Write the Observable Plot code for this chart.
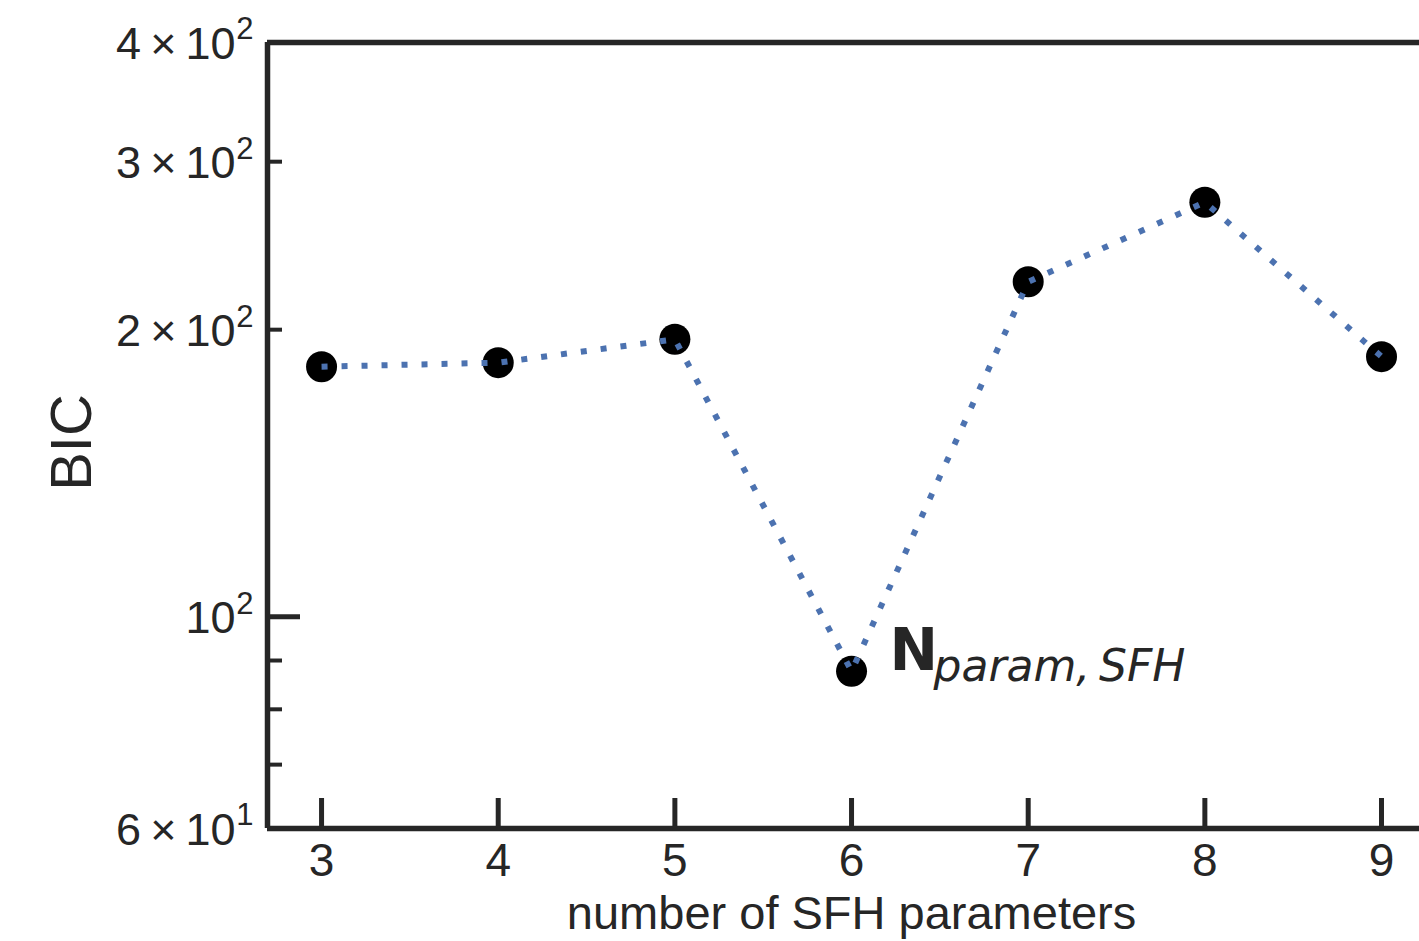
<!DOCTYPE html>
<html>
<head>
<meta charset="utf-8">
<script src="https://cdn.jsdelivr.net/npm/d3@7"></script>
<script src="https://cdn.jsdelivr.net/npm/@observablehq/plot@0.6"></script>
<style>
  html, body { margin: 0; padding: 0; background: #fff; overflow: hidden; }
  #chart svg { display: block; }
</style>
</head>
<body>
<div id="chart"></div>
<script>
// ---- data ----
const nParams = [3, 4, 5, 6, 7, 8, 9];
const bic = [182.9, 184.7, 195.4, 87.7, 224.5, 272.0, 187.4];

const xTicks = [3, 4, 5, 6, 7, 8, 9];
const yMajorTicks = [100];
const yMinorTicks = [70, 80, 90, 200, 300];
const yLabelTicks = [60, 100, 200, 300, 400];
const yLabelBase = ["6\u2009×\u200910", "10", "2\u2009×\u200910", "3\u2009×\u200910", "4\u2009×\u200910"];
const yLabelExp = ["1", "2", "2", "2", "2"];

const xLabel = "number of SFH parameters";
const yLabel = "BIC";
const annotMain = "N";
const annotSub = "param,\u2009SFH";
const annotAt = 6;

const rows = nParams.map((n, i) => ({n, bic: bic[i]}));
const annotRow = rows.find(r => r.n === annotAt);
const yLabelRows = yLabelTicks.map((v, i) => ({v, base: yLabelBase[i], exp: yLabelExp[i]}));

const ink = "#262626";
const lineBlue = "#4c72b0";
const font = "'Liberation Sans', Arial, sans-serif";
const mathFont = "'DejaVu Sans', sans-serif";

const xDomain = [2.694, 9.215];
const yDomain = [60, 400];

const chart = Plot.plot({
  width: 1419,
  height: 941,
  marginLeft: 267,
  marginRight: 0,
  marginTop: 42,
  marginBottom: 113,
  style: {fontFamily: font, color: ink, background: "#fff"},
  x: {domain: xDomain, label: null},
  y: {type: "log", domain: yDomain, label: null},
  marks: [
    // inward ticks
    Plot.axisY(yMajorTicks, {tickSize: -33, strokeWidth: 5, tickFormat: () => "", label: null, stroke: ink}),
    Plot.axisY(yMinorTicks, {tickSize: -15, strokeWidth: 4, tickFormat: () => "", label: null, stroke: ink}),
    Plot.axisX(xTicks, {tickSize: -30, strokeWidth: 5, tickFormat: () => "", label: null, stroke: ink}),
    // y tick labels (mantissa × 10 with superscript exponent)
    Plot.text(yLabelRows, {x: () => xDomain[0], y: "v", text: "base", textAnchor: "end",
      dx: -32, dy: 2, fontSize: 45, fill: ink}),
    Plot.text(yLabelRows, {x: () => xDomain[0], y: "v", text: "exp", textAnchor: "end",
      dx: -14, dy: -13, fontSize: 31, fill: ink}),
    // x tick labels
    Plot.axisX(xTicks, {tickSize: 0, tickPadding: 15, fontSize: 46, label: null, fill: ink,
      tickFormat: d3.format("d")}),
    // spines
    Plot.ruleY([yDomain[1]], {stroke: ink, strokeWidth: 5.5}),
    Plot.ruleY([yDomain[0]], {stroke: ink, strokeWidth: 5.5}),
    Plot.ruleX([xDomain[0]], {stroke: ink, strokeWidth: 5.5}),
    // data
    Plot.dot(rows, {x: "n", y: "bic", r: 15.5, fill: "#000", stroke: null}),
    Plot.line(rows, {x: "n", y: "bic", stroke: lineBlue, strokeWidth: 6, strokeDasharray: "6,14", strokeLinecap: "butt"}),
    // annotation
    Plot.text([annotRow], {x: "n", y: "bic", text: () => annotMain, textAnchor: "start", lineAnchor: "bottom",
      dx: 38, dy: -1, fontSize: 58, fontWeight: "bold", fontFamily: mathFont, fill: ink}),
    Plot.text([annotRow], {x: "n", y: "bic", text: () => annotSub, textAnchor: "start", lineAnchor: "bottom",
      dx: 82, dy: 10, fontSize: 44, fontStyle: "italic", fontFamily: mathFont, fill: ink}),
    // axis titles
    Plot.text([xLabel], {x: () => 6, frameAnchor: "bottom", text: d => d, lineAnchor: "bottom",
      dy: 100, fontSize: 47, fill: ink}),
    Plot.text([yLabel], {frameAnchor: "left", text: d => d, rotate: -90, textAnchor: "middle",
      dx: -195, dy: 7, fontSize: 58, fill: ink})
  ]
});
document.getElementById("chart").appendChild(chart);
</script>
</body>
</html>
